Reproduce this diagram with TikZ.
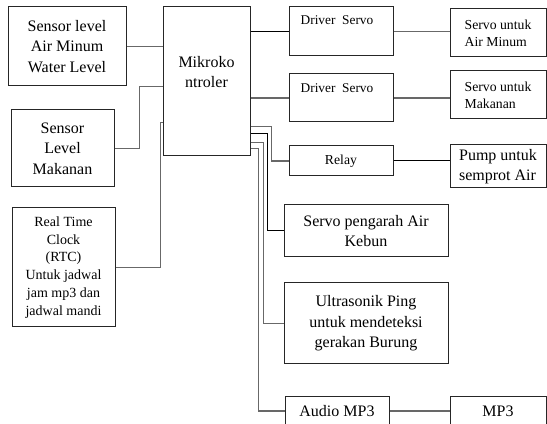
\documentclass[tikz,border=0pt]{standalone}
\usepackage{fontspec}
\setmainfont{Liberation Serif}
\usepackage{xcolor}
\usepackage{tikz}
\usetikzlibrary{calc,positioning}
\definecolor{wiregray}{HTML}{686868}
\definecolor{boxline}{HTML}{262626}

\begin{document}
\begin{tikzpicture}[
  x=0.75pt, y=-0.75pt,
  box/.style={draw=boxline, line width=0.75pt, inner sep=0pt, align=center,
              font=\fontsize{12}{15.5}\selectfont},
  smallbox/.style={box, font=\fontsize{10.3}{12.5}\selectfont},
  lbl/.style={inner sep=0pt, align=center, font=\fontsize{10}{12.5}\selectfont},
  wire/.style={draw=wiregray, line width=1.1pt},
  wireb/.style={draw=black, line width=0.75pt}
]
\useasboundingbox (0,0) rectangle (547,424);

% inputs
\node[box, minimum width=88.5pt, minimum height=59.25pt] (s1) at (67,46.5)
     {Sensor level\\Air Minum\\Water Level};
\node[box, minimum width=77.25pt, minimum height=57.75pt] (s2) at (62.5,148.5)
     {Sensor\\Level\\Makanan};
\node[smallbox, minimum width=77.25pt, minimum height=89.25pt,
      font=\fontsize{10.5}{13.3}\selectfont] (rtc) at (63.5,267.5)
     {Real Time\\Clock\\(RTC)\\Untuk jadwal\\jam mp3 dan\\jadwal mandi};

% controller
\node[box, minimum width=65.25pt, minimum height=111.75pt] (mcu) at (206.5,81.5) {};
\node[lbl, font=\fontsize{12}{15}\selectfont] (mcutxt) at (206.5,72) {Mikroko\\ntroler};

% drivers
\node[box, minimum width=78pt, minimum height=36.75pt] (drv1) at (341,31.5) {};
\node[lbl] (drv1txt) at (337,20) {Driver\ \ Servo};
\node[box, minimum width=78pt, minimum height=36pt] (drv2) at (341,98) {};
\node[lbl] (drv2txt) at (337,88) {Driver\ \ Servo};
\node[smallbox, minimum width=78pt, minimum height=22.5pt] (relay) at (341,161) {Relay};

% actuators
\node[smallbox, align=left, minimum width=72pt, minimum height=36pt] (sv1) at (498,33)
     {Servo untuk\\Air Minum};
\node[smallbox, align=left, minimum width=72pt, minimum height=36pt] (sv2) at (498,95)
     {Servo untuk\\Makanan};
\node[box, align=left, minimum width=72pt, minimum height=32.25pt,
      font=\fontsize{12}{14.5}\selectfont] (pump) at (498,166.5)
     {Pump untuk\\semprot Air};
\node[box, minimum width=123pt, minimum height=39pt] (kebun) at (366,231)
     {Servo pengarah Air\\Kebun};
\node[box, minimum width=123pt, minimum height=60.75pt] (ping) at (366,323.5)
     {Ultrasonik Ping\\untuk mendeteksi\\gerakan Burung};
\node[box, minimum width=78pt, minimum height=21pt] (audio) at (337,411) {Audio MP3};
\node[box, minimum width=72pt, minimum height=21pt] (mp3) at (498,411) {MP3};

% left side wiring
\draw[wire] (s1.east) -- (s1.east -| mcu.west);
\draw[wire] (s2.east) -- ++(25,0) |- ($(mcu.north west)+(0,80)$);
\draw[wire] (rtc.east) -- ++(45,0) |- ($(mcu.north west)+(0,116)$);

% right side wiring
\draw[wireb] (drv1.west -| mcu.east) -- (drv1.west);
\draw[wire] (drv1.east) -- (drv1.east -| sv1.west);
\draw[wire] (drv2.west -| mcu.east) -- (drv2.west);
\draw[wire] (drv2.east) -- (drv2.east -| sv2.west);
\draw[wire] ($(mcu.north east)+(0,120)$) -- ++(21,0) |- (relay.west);
\draw[wireb] (relay.east) -- (relay.east -| pump.west);
\draw[wireb] ($(mcu.north east)+(0,127)$) -- ++(17,0) |- (kebun.west);
\draw[wire] ($(mcu.north east)+(0,136)$) -- ++(13,0) |- (ping.west);
\draw[wire] ($(mcu.north east)+(0,142)$) -- ++(8,0) |- (audio.west);
\draw[wire] (audio.east) -- (mp3.west);
\end{tikzpicture}
\end{document}
